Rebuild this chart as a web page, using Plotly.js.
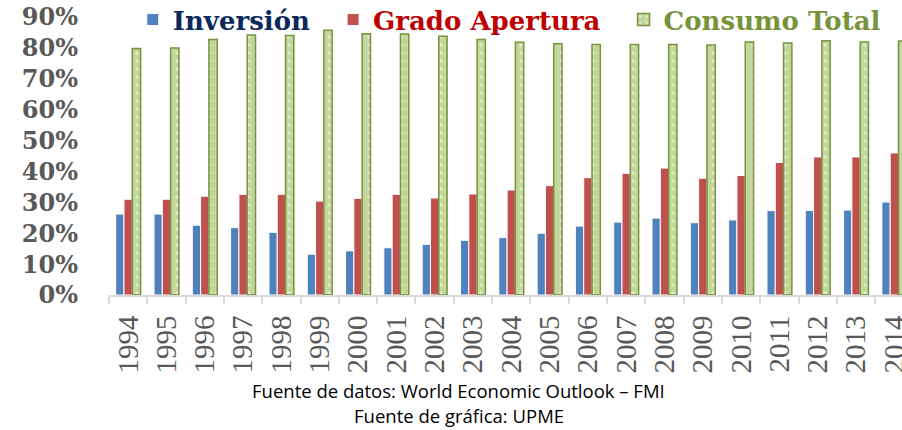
<!DOCTYPE html>
<html>
<head>
<meta charset="utf-8">
<script src="https://cdn.plot.ly/plotly-3.0.1.min.js"></script>
<style>html,body{margin:0;padding:0;background:#fff;}#chart{width:902px;height:430px;}</style>
</head>
<body>
<div id="chart"></div>
<script>
const years = ['1994','1995','1996','1997','1998','1999','2000','2001','2002','2003','2004','2005','2006','2007','2008','2009','2010','2011','2012','2013','2014'];
const inversion = [0.262,0.262,0.226,0.218,0.203,0.132,0.143,0.153,0.164,0.177,0.186,0.200,0.223,0.236,0.249,0.234,0.243,0.273,0.274,0.275,0.301];
const gradoApertura = [0.310,0.310,0.320,0.326,0.326,0.304,0.313,0.326,0.314,0.327,0.340,0.354,0.380,0.394,0.411,0.378,0.387,0.429,0.447,0.447,0.460];
const consumoTotal = [0.798,0.800,0.827,0.842,0.840,0.857,0.846,0.845,0.838,0.827,0.818,0.813,0.811,0.811,0.811,0.809,0.819,0.816,0.823,0.819,0.822];
const seriesNames = ['Inversión','Grado Apertura','Consumo Total'];
const sourceLines = ['Fuente de datos: World Economic Outlook – FMI','Fuente de gráfica: UPME'];

const traces = [
  {type:'bar', x:years, y:inversion, name:'<span style="color:#0B2A5B">'+seriesNames[0]+'\u00A0\u00A0</span>',
   marker:{color:'#4F81BD', line:{color:'#ffffff', width:1}}},
  {type:'bar', x:years, y:gradoApertura, name:'<span style="color:#C00000">'+seriesNames[1]+'\u00A0\u00A0</span>',
   marker:{color:'#C0504D', line:{color:'#ffffff', width:1}}},
  {type:'bar', x:years, y:consumoTotal, name:'<span style="color:#77933C">'+seriesNames[2]+'</span>',
   marker:{color:'#C3D69B', line:{color:'#77933C', width:1.5},
     pattern:{shape:'.', fillmode:'overlay', fgcolor:'#ffffff', bgcolor:'#C3D69B', size:8, solidity:0.15}}}
];

const layout = {
  width:902, height:430,
  margin:{l:109, r:0, t:17, b:135, pad:0, autoexpand:false},
  paper_bgcolor:'#ffffff', plot_bgcolor:'#ffffff',
  barmode:'group', bargap:0.35, bargroupgap:0,
  showlegend:true,
  legend:{orientation:'h', xref:'paper', yref:'paper', x:0.030, y:1.075, xanchor:'left', yanchor:'top',
    font:{family:'DejaVu Serif', size:26, weight:'bold', color:'#333'}, bgcolor:'rgba(0,0,0,0)', tracegroupgap:0, itemwidth:30},
  xaxis:{type:'category', range:[-0.5, 20.2], showgrid:false, zeroline:false,
    showline:true, linecolor:'#D9D9D9', linewidth:2,
    ticks:'outside', tickson:'boundaries', ticklen:7, tickcolor:'#D9D9D9', tickwidth:2,
    tickangle:-90, ticklabelstandoff:7,
    tickfont:{family:'Liberation Serif', size:29, color:'#595959'}},
  yaxis:{range:[0,0.9], dtick:0.1, tickformat:'.0%', showgrid:false, zeroline:false, showline:false,
    ticks:'', ticklabelstandoff:30,
    tickfont:{family:'DejaVu Serif', size:24, weight:'bold', color:'#595959'}},
  annotations:[
    {xref:'paper', yref:'paper', x:0.441, y:-0.342, yanchor:'middle', text:sourceLines[0], showarrow:false,
     font:{family:'Open Sans', size:18.5, color:'#000'}},
    {xref:'paper', yref:'paper', x:0.441, y:-0.4317, yanchor:'middle', text:sourceLines[1], showarrow:false,
     font:{family:'Open Sans', size:18.5, color:'#000'}}
  ]
};

Plotly.newPlot('chart', traces, layout, {displayModeBar:false, staticPlot:true});
</script>
</body>
</html>
